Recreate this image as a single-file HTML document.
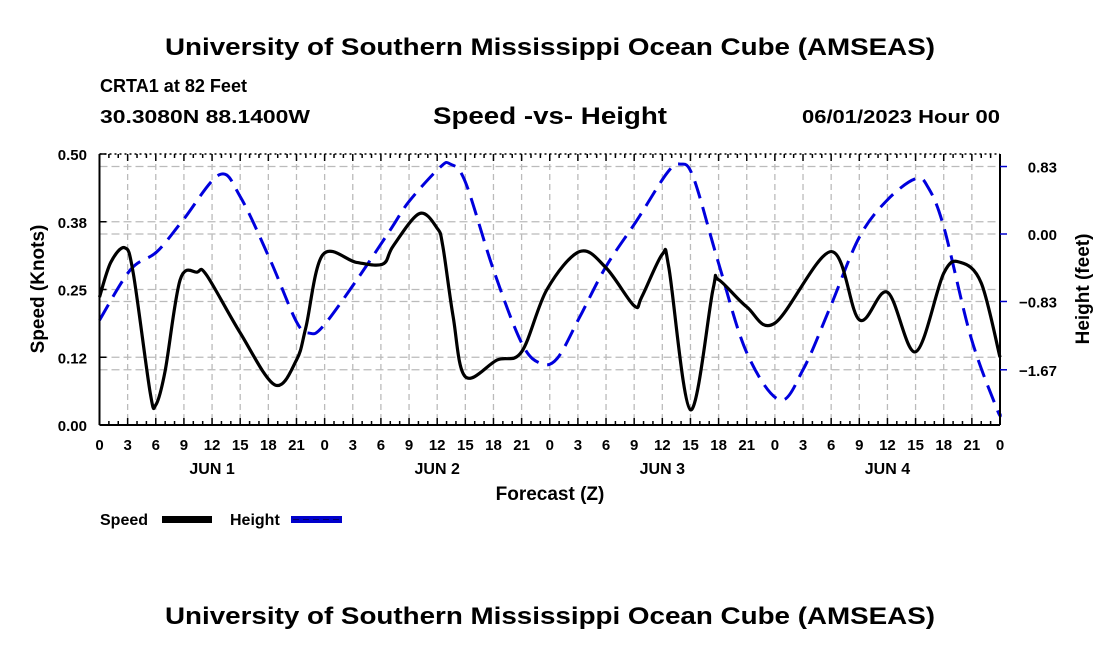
<!DOCTYPE html>
<html><head><meta charset="utf-8"><style>
html,body{margin:0;padding:0;background:#fff}
svg{display:block;font-family:"Liberation Sans",sans-serif;font-weight:bold}
</style></head><body>
<svg id="chart" width="1100" height="650" viewBox="0 0 1100 650" xmlns="http://www.w3.org/2000/svg">
<text x="550" y="55" font-size="24" text-anchor="middle" textLength="770" lengthAdjust="spacingAndGlyphs">University of Southern Mississippi Ocean Cube (AMSEAS)</text>
<text x="100" y="92" font-size="18" textLength="147" lengthAdjust="spacingAndGlyphs">CRTA1 at 82 Feet</text>
<text x="100" y="123" font-size="18" textLength="210" lengthAdjust="spacingAndGlyphs">30.3080N  88.1400W</text>
<text x="550" y="124" font-size="24" text-anchor="middle" textLength="234" lengthAdjust="spacingAndGlyphs">Speed -vs- Height</text>
<text x="1000" y="123" font-size="18" text-anchor="end" textLength="198" lengthAdjust="spacingAndGlyphs">06/01/2023 Hour 00</text>
<g id="grid"></g>
<g id="series"></g>
<g id="axes"></g>
<text transform="translate(44,289) rotate(-90)" font-size="19" text-anchor="middle">Speed (Knots)</text>
<text transform="translate(1089,289) rotate(-90)" font-size="19" text-anchor="middle">Height (feet)</text>
<text x="550" y="500" font-size="19" text-anchor="middle">Forecast (Z)</text>
<g>
<text x="100" y="525" font-size="16">Speed</text>
<rect x="162" y="516" width="50" height="7" fill="#000"/>
<text x="230" y="525" font-size="16">Height</text>
<rect x="291" y="516" width="51" height="7" fill="#0000cc"/>
<line x1="293" y1="519.5" x2="342" y2="519.5" stroke="#000" stroke-width="1" stroke-dasharray="6 4" opacity="0.5"/>
</g>
<text x="550" y="624" font-size="24" text-anchor="middle" textLength="770" lengthAdjust="spacingAndGlyphs">University of Southern Mississippi Ocean Cube (AMSEAS)</text>
</svg>
<script>
const speedHours=[0,1.2,2.7,3.6,5.4,6,7,8.6,10.4,11.4,15,18.7,21,22,23.8,27.4,30.2,31.3,34.1,36,36.6,37.7,39,42.4,45,47.7,51.2,54,57,57.8,60,60.7,63,65.4,66,69,72,78,81,84,87,90,91.8,94,96];
const speedValues=[0.236,0.3,0.327,0.28,0.06,0.037,0.1,0.268,0.282,0.277,0.17,0.074,0.12,0.18,0.314,0.30,0.297,0.33,0.39,0.363,0.33,0.2,0.089,0.12,0.135,0.25,0.32,0.29,0.22,0.236,0.315,0.29,0.028,0.25,0.268,0.218,0.188,0.32,0.194,0.245,0.135,0.28,0.30,0.262,0.125];
const heightHours=[0,3.3,6.1,8.9,12.8,15,18.2,21,22.4,23.8,27.4,31,33,36.3,37.4,39,42,45,47,48.8,51.2,54,57.3,60.5,61.9,63.3,66,69,72.5,75,77.9,81,84,87,88.3,90,92.9,95.7,96];
const heightValues=[-1.06,-0.44,-0.22,0.17,0.73,0.46,-0.32,-1.08,-1.22,-1.14,-0.57,0.05,0.4,0.82,0.86,0.64,-0.44,-1.34,-1.59,-1.53,-1.02,-0.4,0.17,0.75,0.86,0.7,-0.36,-1.46,-2.04,-1.67,-0.9,-0.04,0.42,0.68,0.58,0.09,-1.27,-2.16,-2.2];
const speedTicks=[0,0.125,0.25,0.375,0.5];
const speedTickLabels=["0.00","0.12","0.25","0.38","0.50"];
const heightTicks=[-1.67,-0.83,0,0.83];
const heightTickLabels=["\u22121.67","\u22120.83","0.00","0.83"];
const dayLabels=["JUN 1","JUN 2","JUN 3","JUN 4"];

const X0=99.5,X1=1000,YT=154,YB=425;
const xs=h=>X0+(X1-X0)*h/96;
const ys=v=>YB-(YB-YT)*v/0.5;
const yh=v=>234-81.3*v;
const NS="http://www.w3.org/2000/svg";
function mk(parent,tag,attrs){const e=document.createElementNS(NS,tag);for(const k in attrs)e.setAttribute(k,attrs[k]);document.getElementById(parent).appendChild(e);return e;}
function smooth(pts){let d="M"+pts[0][0]+","+pts[0][1];for(let i=0;i<pts.length-1;i++){const p0=pts[Math.max(0,i-1)],p1=pts[i],p2=pts[i+1],p3=pts[Math.min(pts.length-1,i+2)];const c1x=p1[0]+(p2[0]-p0[0])/6,c1y=p1[1]+(p2[1]-p0[1])/6,c2x=p2[0]-(p3[0]-p1[0])/6,c2y=p2[1]-(p3[1]-p1[1])/6;d+=" C"+c1x+","+c1y+" "+c2x+","+c2y+" "+p2[0]+","+p2[1];}return d;}

for(let h=3;h<96;h+=3){const l=mk('grid','line',{x1:xs(h),x2:xs(h),y1:YT,y2:YB,stroke:'#bbb','stroke-width':1.3,'stroke-dasharray':'6 4'});

}
speedTicks.slice(1,4).forEach(v=>{const l=mk('grid','line',{x1:X0,x2:X1,y1:ys(v),y2:ys(v),stroke:'#bbb','stroke-width':1.3,'stroke-dasharray':'8 4'});

});
heightTicks.forEach(v=>{const l=mk('grid','line',{x1:X0,x2:X1,y1:yh(v),y2:yh(v),stroke:'#bbb','stroke-width':1.3,'stroke-dasharray':'8 4'});

});

const hp=mk('series','path',{d:smooth(heightHours.map((h,i)=>[xs(h),yh(heightValues[i])])),fill:'none',stroke:'#0000dd','stroke-width':3,'stroke-dasharray':'18 9'});


const sp=mk('series','path',{d:smooth(speedHours.map((h,i)=>[xs(h),ys(speedValues[i])])),fill:'none',stroke:'#000','stroke-width':3.2});



[[X0,YT,X0,YB],[X1,YT,X1,YB],[X0,YB,X1,YB]].forEach(a=>{const l=mk('axes','line',{x1:a[0],y1:a[1],x2:a[2],y2:a[3],stroke:'#000','stroke-width':2});

});
const tl=mk('axes','line',{x1:X0,y1:YT,x2:X1,y2:YT,stroke:'#000','stroke-width':1.5,'stroke-dasharray':'2 3'});


for(let h=0;h<=96;h++){const maj=h%3===0;
[[YB,YB-(maj?7:4)],[YT,YT+(maj?7:4)]].forEach(p=>{const t=mk('axes','line',{x1:xs(h),x2:xs(h),y1:p[0],y2:p[1],stroke:'#000','stroke-width':1.5});

});
if(maj){const t=mk('axes','text',{x:xs(h),y:450,'font-size':15,'text-anchor':'middle'});t.textContent=String(h%24);

}}
dayLabels.forEach((d,i)=>{const t=mk('axes','text',{x:xs(12+24*i),y:474,'font-size':16,'text-anchor':'middle'});t.textContent=d;

});
speedTicks.forEach((v,i)=>{const t=mk('axes','line',{x1:X0,x2:X0+7,y1:ys(v),y2:ys(v),stroke:'#000','stroke-width':1.5});


const s=mk('axes','text',{x:87,y:ys(v)+6,'font-size':15,'text-anchor':'end'});s.textContent=speedTickLabels[i];

});
heightTicks.forEach((v,i)=>{const t=mk('axes','line',{x1:X1,x2:X1+7,y1:yh(v),y2:yh(v),stroke:'#0000cc','stroke-width':1.5});


const s=mk('axes','text',{x:1057,y:yh(v)+6,'font-size':15,'text-anchor':'end'});s.textContent=heightTickLabels[i];

});
</script>
</body></html>
